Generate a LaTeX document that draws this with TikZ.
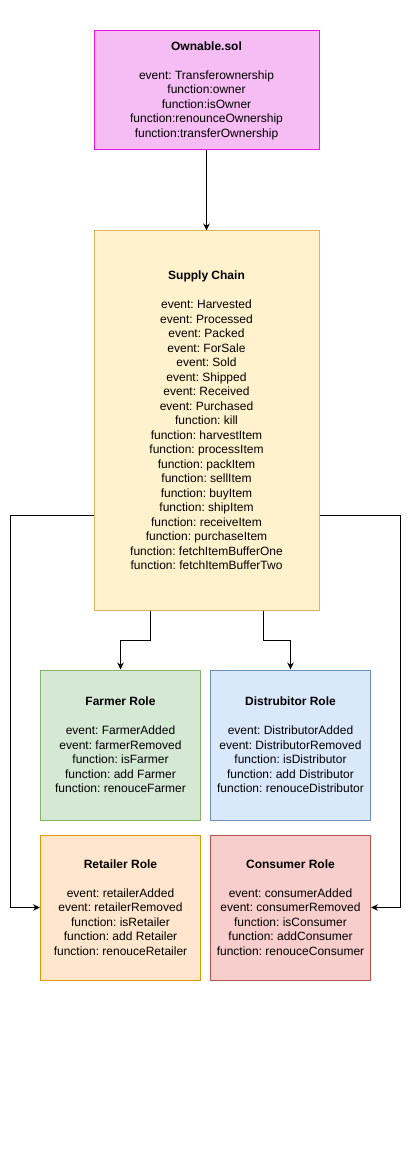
\documentclass[tikz,border=0pt]{standalone}
\usepackage{fontspec}
\setmainfont{Liberation Sans}
\usepackage{tikz}
\usetikzlibrary{arrows.meta}
\definecolor{ownfill}{RGB}{246,188,244}
\definecolor{ownline}{RGB}{240,20,230}
\definecolor{supfill}{RGB}{255,242,204}
\definecolor{supline}{RGB}{214,182,86}
\definecolor{farmfill}{RGB}{213,232,212}
\definecolor{farmline}{RGB}{130,179,102}
\definecolor{distfill}{RGB}{218,232,252}
\definecolor{distline}{RGB}{108,142,191}
\definecolor{retfill}{RGB}{255,230,204}
\definecolor{retline}{RGB}{215,155,0}
\definecolor{consfill}{RGB}{248,206,204}
\definecolor{consline}{RGB}{184,84,80}
\tikzset{every picture/.style={line width=1pt}}
\frenchspacing

\begin{document}
\begin{tikzpicture}[x=1pt,y=1pt,yscale=-1,xscale=1,
  box/.style={draw,inner sep=0pt,align=center,font=\fontsize{12}{14.5}\selectfont},
  arr/.style={-{Stealth[length=7pt,width=6.5pt]},black}]
\useasboundingbox (0,0) rectangle (413,1166);

%Ownable contract
\node [box,draw=ownline,fill=ownfill,minimum width=225,minimum height=119] (own) at (206.5,90.5)
  {\textbf{Ownable.sol}\\[14.5pt]
   event: Transferownership\\ function:owner\\ function:isOwner\\
   function:renounceOwnership\\ function:transferOwnership};
%Supply chain contract
\node [box,draw=supline,fill=supfill,minimum width=225,minimum height=379] (supply) at (206.5,420.5)
  {\textbf{Supply Chain}\\[14.5pt]
   event: Harvested\\ event: Processed\\ event: Packed\\ event: ForSale\\
   event: Sold\\ event: Shipped\\ event: Received\\ event: Purchased\\
   function: kill\\ function: harvestItem\\ function: processItem\\
   function: packItem\\ function: sellItem\\ function: buyItem\\
   function: shipItem\\ function: receiveItem\\ function: purchaseItem\\
   function: fetchItemBufferOne\\ function: fetchItemBufferTwo};
%Roles
\node [box,draw=farmline,fill=farmfill,minimum width=160,minimum height=150] (farmer) at (120.5,745)
  {\textbf{Farmer Role}\\[14.5pt]
   event: FarmerAdded\\ event: farmerRemoved\\ function: isFarmer\\
   function: add Farmer\\ function: renouceFarmer};
\node [box,draw=distline,fill=distfill,minimum width=160,minimum height=150] (distrib) at (290.5,745)
  {\textbf{Distrubitor Role}\\[14.5pt]
   event: DistributorAdded\\ event: DistributorRemoved\\ function: isDistributor\\
   function: add Distributor\\ function: renouceDistributor};
\node [box,draw=retline,fill=retfill,minimum width=160,minimum height=145] (retailer) at (120.5,907.5)
  {\textbf{Retailer Role}\\[14.5pt]
   event: retailerAdded\\ event: retailerRemoved\\ function: isRetailer\\
   function: add Retailer\\ function: renouceRetailer};
\node [box,draw=consline,fill=consfill,minimum width=160,minimum height=145] (consumer) at (290.5,907.5)
  {\textbf{Consumer Role}\\[14.5pt]
   event: consumerAdded\\ event: consumerRemoved\\ function: isConsumer\\
   function: addConsumer\\ function: renouceConsumer};

%bend points of the outer loops
\coordinate (lbend) at (10.5,515);
\coordinate (rbend) at (400.5,515);

%Connectors
\draw [arr] (own) -- (supply);
\draw [arr] ([xshift=-56.5pt]supply.south) -- ++(0,30) -| (farmer.north);
\draw [arr] ([xshift=56.5pt]supply.south) -- ++(0,30) -| (distrib.north);
\draw [arr] (supply.west |- lbend) -- (lbend) |- (retailer.west);
\draw [arr] (supply.east |- rbend) -- (rbend) |- (consumer.east);
\end{tikzpicture}
\end{document}
